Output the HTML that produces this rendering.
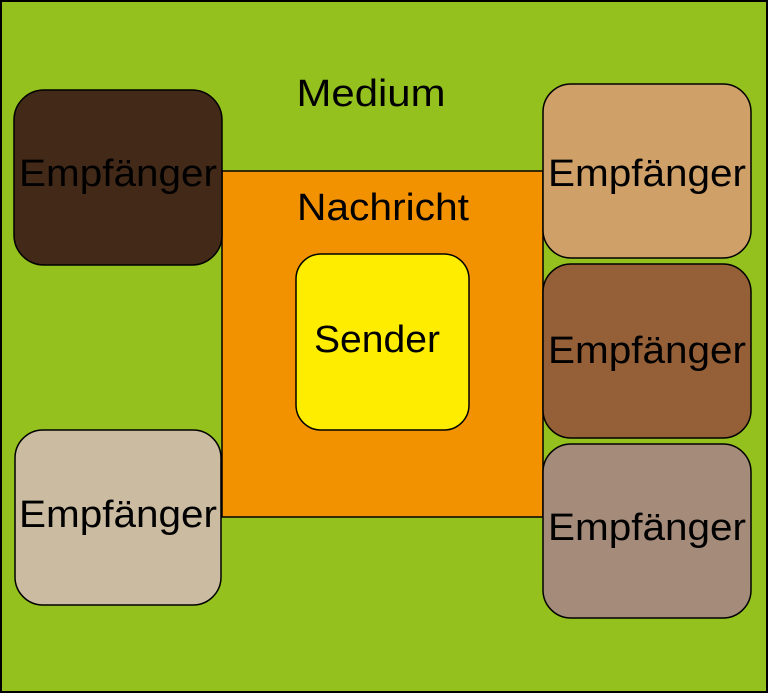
<!DOCTYPE html>
<html><head><style>html,body{margin:0;padding:0;background:#fff}</style></head>
<body>
<svg width="768" height="693" xmlns="http://www.w3.org/2000/svg" font-family="Liberation Sans, sans-serif">
<rect x="1" y="1" width="766" height="691" fill="#95c11f" stroke="#000" stroke-width="2"/>
<rect x="222" y="171" width="321" height="346" fill="#f39200" stroke="#000" stroke-width="1.5"/>
<rect x="296" y="254" width="173" height="176" rx="25" fill="#ffed00" stroke="#000" stroke-width="1.5"/>
<rect x="14" y="90" width="208" height="175" rx="30" fill="#432918" stroke="#000" stroke-width="1.5"/>
<rect x="15" y="430" width="206" height="175" rx="28" fill="#cbbba0" stroke="#000" stroke-width="1.5"/>
<rect x="543" y="84" width="208" height="174" rx="28" fill="#cfa068" stroke="#000" stroke-width="1.5"/>
<rect x="543" y="264" width="208" height="174" rx="28" fill="#955f37" stroke="#000" stroke-width="1.5"/>
<rect x="543" y="444" width="208" height="174" rx="28" fill="#a48b7a" stroke="#000" stroke-width="1.5"/>
<g font-size="38" fill="#000" text-anchor="middle">
<text x="371" y="106" textLength="149" lengthAdjust="spacingAndGlyphs">Medium</text>
<text x="383" y="220" textLength="172" lengthAdjust="spacingAndGlyphs">Nachricht</text>
<text x="377" y="352" textLength="126" lengthAdjust="spacingAndGlyphs">Sender</text>
<text x="118" y="186" textLength="198" lengthAdjust="spacingAndGlyphs">Empfänger</text>
<text x="118" y="527" textLength="198" lengthAdjust="spacingAndGlyphs">Empfänger</text>
<text x="647" y="186" textLength="198" lengthAdjust="spacingAndGlyphs">Empfänger</text>
<text x="647" y="363" textLength="198" lengthAdjust="spacingAndGlyphs">Empfänger</text>
<text x="647" y="540" textLength="198" lengthAdjust="spacingAndGlyphs">Empfänger</text>
</g>
</svg>
</body></html>
